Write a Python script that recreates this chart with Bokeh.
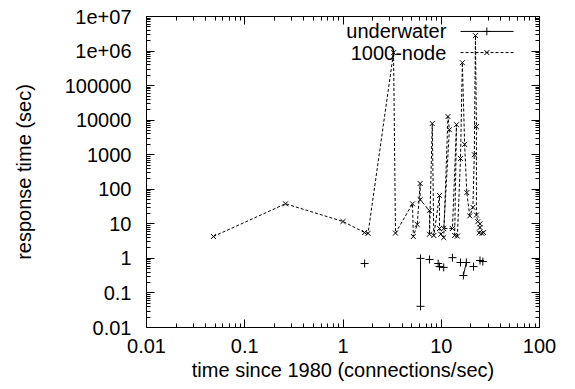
import math
from bokeh.plotting import figure
from bokeh.models import Range1d, LogAxis, FixedTicker, Label
from bokeh.embed import file_html
from bokeh.resources import INLINE

nan = float("nan")

# 1000-node series (connected in order)
node_x = [0.048, 0.26, 1.0, 1.66, 1.8, 3.27, 3.42, 5.1, 5.2, 5.7, 6.1, 6.1, 7.6, 7.6,
          8.1, 8.4, 9.6, 9.6, 9.9, 10.6, 11.7, 12.1, 10.6, 13.0, 14.3, 13.7, 14.6, 15.7,
          16.4, 17.3, 18.2, 19.5, 21.0, 21.7, 22.3, 22.8, 22.8, 23.5, 24.8, 24.8, 24.3,
          26.0, 27.0]
node_y = [4.3, 38, 11.7, 5.6, 5.3, 9.0e5, 5.4, 38, 4.3, 9.6, 147, 50, 24, 5.0,
          8000, 4.6, 66, 7.3, 5.0, 4.0, 12700, 5300, 7.3, 7.3, 7400, 4.6, 4.4, 780,
          4.6e5, 2000, 80, 17, 30, 1000, 2.8e6, 6500, 18, 11.5, 10, 7.8, 5.5,
          5.3, 5.6]

# underwater series (NaN separates unconnected points)
water_x = [1.66, nan, 6.15, 6.15, nan, 7.6, nan, 9.3, nan, 9.6, nan, 10.6, nan, 13.0, nan,
           15.7, nan, 16.8, 18.0, nan, 21.3, nan, 24.8, nan, 26.5]
water_y = [0.71, nan, 1.0, 0.041, nan, 0.93, nan, 0.71, nan, 0.58, nan, 0.55, nan, 1.05, nan,
           0.76, nan, 0.32, 0.76, nan, 0.58, nan, 0.87, nan, 0.81]

x_ticks = [0.01, 0.1, 1, 10, 100]
x_tick_labels = ["0.01", "0.1", "1", "10", "100"]
y_ticks = [0.01, 0.1, 1, 10, 100, 1000, 10000, 100000, 1e6, 1e7]
y_tick_labels = ["0.01", "0.1", "1", "10", "100", "1000", "10000", "100000", "1e+06", "1e+07"]

series_names = ["underwater", "1000-node"]

FONT = "Liberation Sans"
FS = "20px"

def minors(lo_exp, hi_exp):
    return [m * 10.0 ** k for k in range(lo_exp, hi_exp) for m in range(2, 10)]

p = figure(width=575, height=389, x_axis_type="log", y_axis_type="log",
           x_range=Range1d(0.01, 100), y_range=Range1d(0.01, 1e7),
           output_backend="svg", toolbar_location=None,
           min_border_left=146, min_border_right=36, min_border_top=16, min_border_bottom=62)
p.grid.visible = False
p.outline_line_color = "black"
p.outline_line_width = 1
p.background_fill_color = "white"
p.border_fill_color = "white"

def style(ax):
    ax.major_tick_in = 8
    ax.major_tick_out = 0
    ax.minor_tick_in = 4
    ax.minor_tick_out = 0
    ax.axis_line_color = "black"
    ax.major_tick_line_color = "black"
    ax.minor_tick_line_color = "black"
    ax.major_label_text_font = FONT
    ax.major_label_text_font_size = FS
    ax.major_label_text_color = "black"
    ax.axis_label_text_font = FONT
    ax.axis_label_text_font_size = FS
    ax.axis_label_text_font_style = "normal"
    ax.axis_label_text_color = "black"

xa = p.xaxis[0]
xa.ticker = FixedTicker(ticks=x_ticks, minor_ticks=minors(-2, 2))
xa.major_label_overrides = {t: l for t, l in zip(x_ticks, x_tick_labels)}
style(xa)
xa.axis_label = "time since 1980 (connections/sec)"
xa.major_label_standoff = 11
xa.axis_label_standoff = 3

ya = p.yaxis[0]
ya.ticker = FixedTicker(ticks=y_ticks, minor_ticks=minors(-2, 7))
ya.major_label_overrides = {t: l for t, l in zip(y_ticks, y_tick_labels)}
style(ya)
ya.axis_label = "response time (sec)"
ya.major_label_standoff = 15
ya.axis_label_standoff = 27

top = LogAxis(ticker=FixedTicker(ticks=x_ticks, minor_ticks=minors(-2, 2)))
right = LogAxis(ticker=FixedTicker(ticks=y_ticks, minor_ticks=minors(-2, 7)))
for ax in (top, right):
    style(ax)
    ax.major_label_text_font_size = "1px"
    ax.major_label_text_alpha = 0
    ax.major_label_standoff = 0
p.add_layout(top, "above")
p.add_layout(right, "right")

# data
p.line(node_x, node_y, line_color="black", line_width=1, line_dash="3 2")
p.scatter(node_x, node_y, marker="x", size=7, line_color="black", line_width=1)
p.line(water_x, water_y, line_color="black", line_width=1)
p.scatter(water_x, water_y, marker="cross", size=8, line_color="black", line_width=1)

# legend (gnuplot style: text right-aligned, sample to the right)
lx0, lx1 = math.log10(0.01), math.log10(100)
ly0, ly1 = math.log10(0.01), math.log10(1e7)
def fx(f):
    return 10 ** (lx0 + f * (lx1 - lx0))
def fy(f):
    return 10 ** (ly0 + f * (ly1 - ly0))
rows = [0.952, 0.884]
styles = [("solid", "cross"), ("3 2", "x")]
for name, fr, (dash, mk) in zip(series_names, rows, styles):
    p.line([fx(0.799), fx(0.934)], [fy(fr), fy(fr)], line_color="black", line_width=1, line_dash=dash)
    p.scatter([fx(0.866)], [fy(fr)], marker=mk, size=7 if mk == "x" else 8, line_color="black")
    p.add_layout(Label(x=fx(0.763), y=fy(fr), text=name, text_align="right", text_baseline="middle",
                       text_font=FONT, text_font_size=FS, text_color="black"))

open("out.html", "w").write(file_html(p, INLINE))
